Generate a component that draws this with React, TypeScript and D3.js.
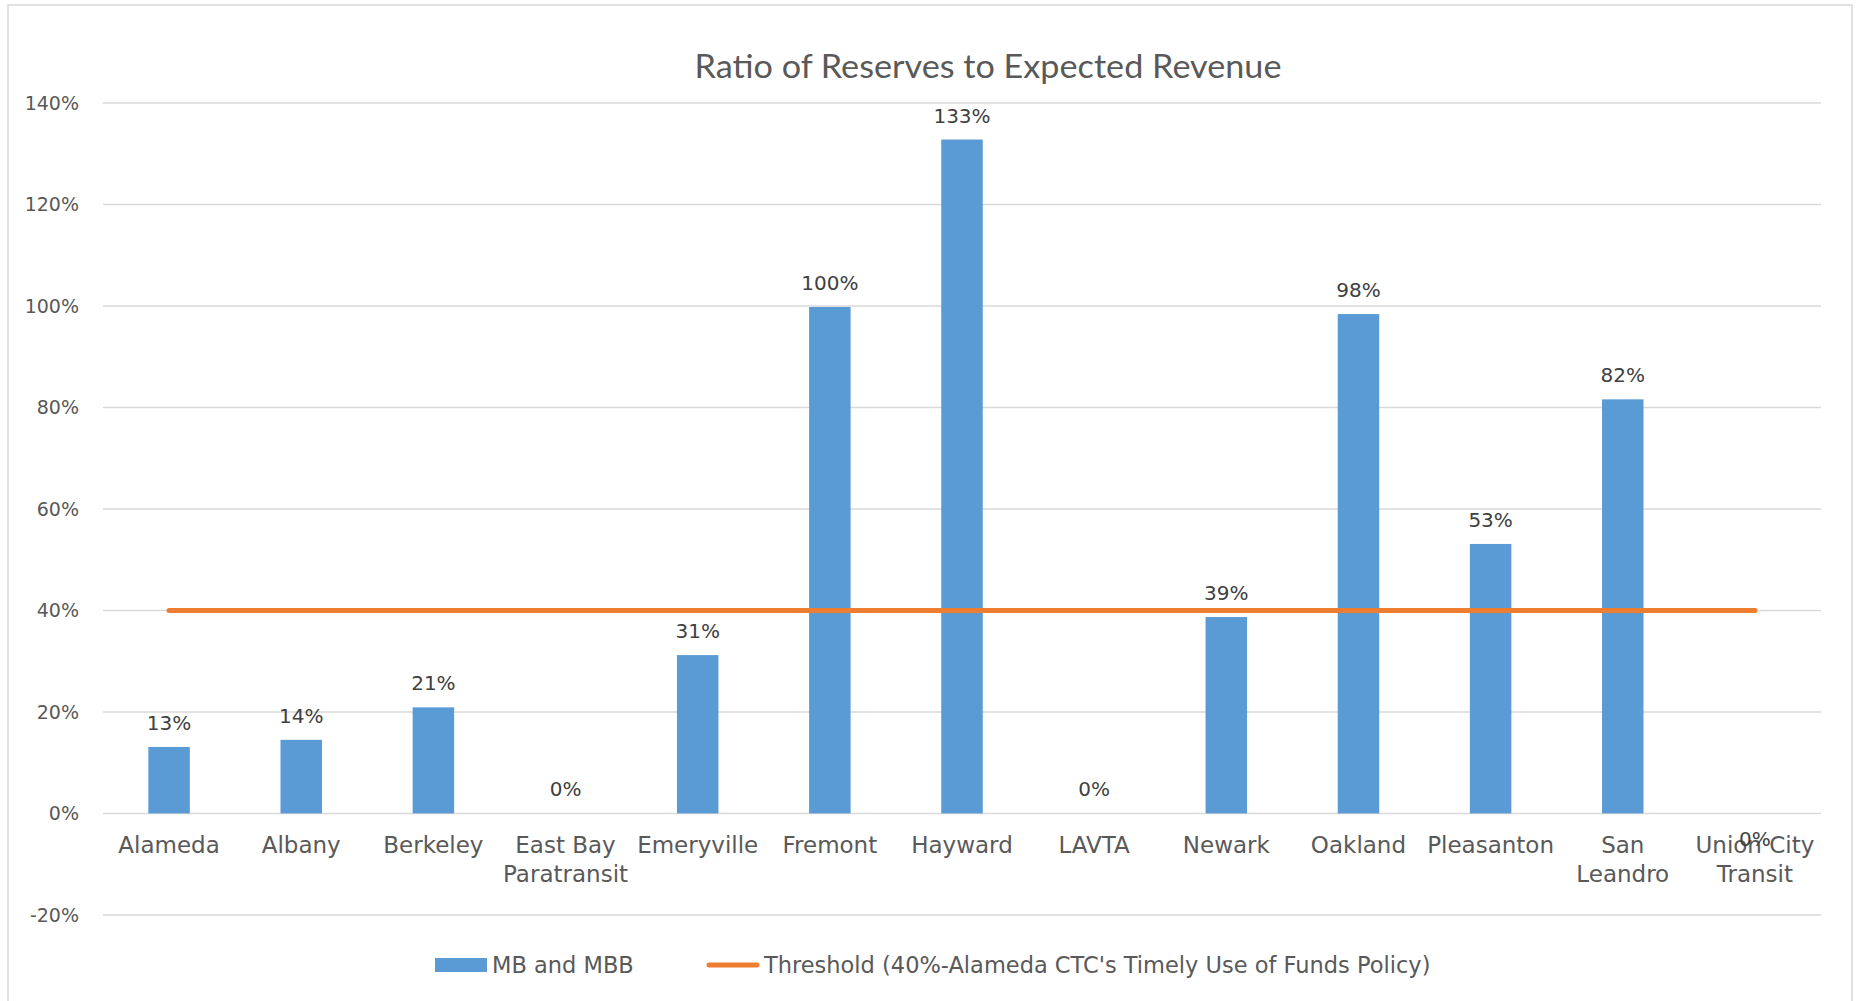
import React from "react";
import * as d3 from "d3";

const categories: string[][] = [
  ["Alameda"], ["Albany"], ["Berkeley"], ["East Bay", "Paratransit"], ["Emeryville"],
  ["Fremont"], ["Hayward"], ["LAVTA"], ["Newark"], ["Oakland"], ["Pleasanton"],
  ["San", "Leandro"], ["Union City", "Transit"],
];
const ratios: number[] = [0.131, 0.145, 0.209, 0, 0.312, 0.998, 1.328, 0, 0.387, 0.984, 0.531, 0.816, 0];
const valueLabels: string[] = ["13%", "14%", "21%", "0%", "31%", "100%", "133%", "0%", "39%", "98%", "53%", "82%", "0%"];
const labelBelow: boolean[] = [false, false, false, false, false, false, false, false, false, false, false, false, true];
const threshold = 0.4;
const yTicks: number[] = [-0.2, 0, 0.2, 0.4, 0.6, 0.8, 1.0, 1.2, 1.4];
const title = "Ratio of Reserves to Expected Revenue";
const seriesNames = ["MB and MBB", "Threshold (40%-Alameda CTC's Timely Use of Funds Policy)"];

const W = 1857, H = 1001;
const BLUE = "#5B9BD5", ORANGE = "#ED7D31", TEXT = "#595959", GRID = "#D9D9D9";
const FONT = "'DejaVu Sans', sans-serif";

export default function App() {
  const keys = categories.map((c) => c.join(" "));
  const x = d3.scaleBand<string>().domain(keys).range([103, 1821]).paddingInner(0.686).paddingOuter(0.343);
  const y = d3.scaleLinear().domain([-0.2, 1.4]).range([914.9, 103]);
  const fmt = (t: number) => d3.format(".0%")(t).replace("\u2212", "-");
  const cx = (i: number) => (x(keys[i]) as number) + x.bandwidth() / 2;

  return (
    <svg width={W} height={H} style={{ position: "absolute", left: 0, top: 0, background: "#fff" }}>
      <rect x={8} y={5} width={1844} height={1010} fill="#fff" stroke={GRID} strokeWidth={1.5} />
      <text x={988} y={78} textAnchor="middle" fontFamily="Lato, 'Open Sans', sans-serif" fontSize={32} fill={TEXT}
        textLength={587} lengthAdjust="spacingAndGlyphs">{title}</text>
      {yTicks.map((t) => (
        <g key={t}>
          <line x1={103} x2={1821} y1={y(t)} y2={y(t)} stroke={GRID} strokeWidth={1.5} />
          <text x={79} y={y(t) + 7} textAnchor="end" fontFamily={FONT} fontSize={19} fill={TEXT}>{fmt(t)}</text>
        </g>
      ))}
      {ratios.map((v, i) => (
        <rect key={keys[i]} x={x(keys[i])} y={y(Math.max(v, 0))} width={x.bandwidth()} height={Math.abs(y(v) - y(0))} fill={BLUE} />
      ))}
      <line x1={cx(0)} x2={cx(keys.length - 1)} y1={y(threshold)} y2={y(threshold)} stroke={ORANGE} strokeWidth={5} strokeLinecap="round" />
      {categories.map((lines, i) => (
        <text key={keys[i]} textAnchor="middle" fontFamily={FONT} fontSize={23} fill={TEXT}>
          {lines.map((l, j) => (
            <tspan key={j} x={cx(i)} y={853 + j * 29}>{l}</tspan>
          ))}
        </text>
      ))}
      {ratios.map((v, i) => (
        <text key={"l" + i} x={cx(i)} y={labelBelow[i] ? y(0) + 33 : y(v) - 17} textAnchor="middle" fontFamily={FONT} fontSize={20} fill="#404040">{valueLabels[i]}</text>
      ))}
      <rect x={435} y={958} width={52} height={14} fill={BLUE} />
      <text x={492} y={973} fontFamily={FONT} fontSize={22.5} fill={TEXT}>{seriesNames[0]}</text>
      <line x1={709} x2={757} y1={965} y2={965} stroke={ORANGE} strokeWidth={5} strokeLinecap="round" />
      <text x={764} y={973} fontFamily={FONT} fontSize={22.5} fill={TEXT}>{seriesNames[1]}</text>
    </svg>
  );
}
